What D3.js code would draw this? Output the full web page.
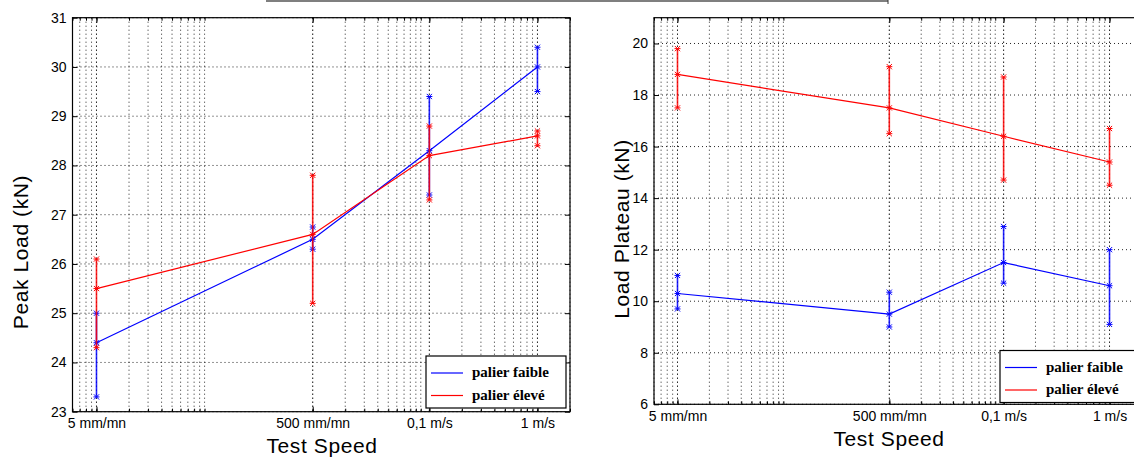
<!DOCTYPE html>
<head>
  <script src="https://cdn.jsdelivr.net/npm/d3@7"></script>
  <title>Peak Load / Load Plateau vs Test Speed</title>
  <style>
    body { margin: 0; background: #fff; }
    svg { display: block; }
    .tick text { font-family: "Liberation Sans", Arial, sans-serif; font-size: 14px; fill: #000; }
    .lbl { font-family: "Liberation Sans", Arial, sans-serif; font-size: 21px; letter-spacing: 0.6px; }
    .leg { font-family: "Liberation Serif", "Times New Roman", serif; font-size: 15px; font-weight: bold; }
  </style>
</head>
<body>
<svg id="chart" width="1134" height="457"></svg>
<script>
  // test speeds, in mm/mn
  const speedValues = [5, 500, 6000, 60000];
  const speedLabels = ["5 mm/mn", "500 mm/mn", "0,1 m/s", "1 m/s"];
  const seriesNames = ["palier faible", "palier élevé"];

  // Peak Load (kN)
  const peakFaible     = [24.4, 26.5, 28.3, 30.0];
  const peakFaibleLow  = [23.3, 26.3, 27.4, 29.5];
  const peakFaibleHigh = [25.0, 26.75, 29.4, 30.4];
  const peakEleve      = [25.5, 26.6, 28.2, 28.6];
  const peakEleveLow   = [24.3, 25.2, 27.3, 28.4];
  const peakEleveHigh  = [26.1, 27.8, 28.8, 28.7];
  const peakTicks = [23, 24, 25, 26, 27, 28, 29, 30, 31];

  // Load Plateau (kN)
  const platFaible     = [10.3, 9.5, 11.5, 10.6];
  const platFaibleLow  = [9.7, 9.0, 10.7, 9.1];
  const platFaibleHigh = [11.0, 10.35, 12.9, 12.0];
  const platEleve      = [18.8, 17.5, 16.4, 15.4];
  const platEleveLow   = [17.5, 16.5, 14.7, 14.5];
  const platEleveHigh  = [19.8, 19.1, 18.7, 16.7];
  const platTicks = [6, 8, 10, 12, 14, 16, 18, 20];

  const xDomain = [3, 120000];
  // minor log grid: decade start and its range (the original skips 50..500)
  const gridAnchors = [[0.5, 5], [5, 50], [500, 5000], [6000, 60000], [60000, 120000]];

  const svg = d3.select("#chart");

  // stray box edge from the figure above
  svg.append("line").attr("x1", 266).attr("x2", 888).attr("y1", 1).attr("y2", 1)
    .attr("stroke", "#555").attr("stroke-width", 1.5);
  svg.append("line").attr("x1", 888).attr("x2", 888).attr("y1", 0).attr("y2", 4)
    .attr("stroke", "#333");

  function minorGrid(domain) {
    const vals = [];
    gridAnchors.forEach(([a, end]) => {
      for (let m = 1; m <= 10; m++) {
        const v = a * m;
        if (v >= domain[0] && v <= domain[1] && v <= end) vals.push(v);
      }
    });
    return Array.from(new Set(vals));
  }

  function drawPanel(cfg) {
    const g = svg.append("g");
    const x = d3.scaleLog().domain(xDomain).range([cfg.left, cfg.right]);
    const y = d3.scaleLinear().domain(cfg.yDomain).range([cfg.bottom, cfg.top]);
    const grid = minorGrid(xDomain);

    // grid
    const gridLine = sel => sel.attr("stroke", "#000").attr("stroke-width", 1)
      .attr("stroke-dasharray", "1,3").attr("stroke-opacity", 0.85);
    g.append("g").selectAll("line").data(grid.concat(speedValues)).join("line")
      .attr("x1", d => x(d)).attr("x2", d => x(d))
      .attr("y1", cfg.top).attr("y2", cfg.bottom).call(gridLine);
    g.append("g").selectAll("line").data(cfg.yTicks).join("line")
      .attr("x1", cfg.left).attr("x2", cfg.right)
      .attr("y1", d => y(d)).attr("y2", d => y(d)).call(gridLine);

    // series: faible (blue) first, élevé (red) on top
    cfg.series.forEach(s => {
      const pts = speedValues.map((v, i) => ({x: v, y: s.mean[i], lo: s.low[i], hi: s.high[i]}));
      g.append("path").datum(pts)
        .attr("fill", "none").attr("stroke", s.color).attr("stroke-width", 1.2)
        .attr("d", d3.line().x(d => x(d.x)).y(d => y(d.y)));
      const eb = g.append("g").attr("stroke", s.color).attr("fill", "none");
      eb.selectAll(".bar").data(pts).join("line").attr("class", "bar")
        .attr("x1", d => x(d.x)).attr("x2", d => x(d.x))
        .attr("y1", d => y(d.lo)).attr("y2", d => y(d.hi))
        .attr("stroke-width", 1.6).attr("stroke-opacity", 0.85);
      const marks = pts.flatMap(d => [[d.x, d.lo], [d.x, d.hi], [d.x, d.y]]);
      const k = 2.6;
      eb.selectAll(".mk").data(marks).join("path").attr("class", "mk")
        .attr("stroke-width", 1)
        .attr("d", d => {
          const px = x(d[0]), py = y(d[1]);
          return `M${px - k},${py - k}L${px + k},${py + k}M${px - k},${py + k}L${px + k},${py - k}M${px - 3},${py}L${px + 3},${py}`;
        });
    });

    // axes (ticks pointing inward, MATLAB style)
    const axes = g.append("g");
    axes.append("g").attr("transform", `translate(0,${cfg.bottom})`)
      .call(d3.axisBottom(x).tickValues(grid).tickSize(-3).tickFormat(""))
      .call(a => a.select(".domain").remove());
    axes.append("g").attr("transform", `translate(0,${cfg.top})`)
      .call(d3.axisTop(x).tickValues(grid).tickSize(-3).tickFormat(""))
      .call(a => a.select(".domain").remove());
    axes.append("g").attr("transform", `translate(0,${cfg.bottom})`)
      .call(d3.axisBottom(x).tickValues(speedValues).tickSize(-5).tickPadding(cfg.xPad)
        .tickFormat((d, i) => speedLabels[i]))
      .call(a => a.select(".domain").remove());
    axes.append("g").attr("transform", `translate(0,${cfg.top})`)
      .call(d3.axisTop(x).tickValues(speedValues).tickSize(-5).tickFormat(""))
      .call(a => a.select(".domain").remove());
    axes.append("g").attr("transform", `translate(${cfg.left},0)`)
      .call(d3.axisLeft(y).tickValues(cfg.yTicks).tickSize(-5).tickPadding(6).tickFormat(d3.format("d")))
      .call(a => a.select(".domain").remove());
    axes.append("g").attr("transform", `translate(${cfg.right},0)`)
      .call(d3.axisRight(y).tickValues(cfg.yTicks).tickSize(-5).tickFormat(""))
      .call(a => a.select(".domain").remove());
    axes.selectAll(".tick line").attr("stroke", "#000");
    g.append("rect").attr("x", cfg.left).attr("y", cfg.top)
      .attr("width", cfg.right - cfg.left).attr("height", cfg.bottom - cfg.top)
      .attr("fill", "none").attr("stroke", "#000").attr("stroke-width", 1.2);

    // axis titles
    g.append("text").attr("class", "lbl").attr("x", cfg.xLabelX).attr("y", cfg.xLabelY)
      .attr("text-anchor", "middle").text("Test Speed");
    g.append("text").attr("class", "lbl").attr("text-anchor", "middle")
      .attr("transform", `translate(${cfg.yLabelX},${cfg.yLabelY}) rotate(-90)`).text(cfg.yLabel);

    // legend
    const lg = g.append("g").attr("transform", `translate(${cfg.legX},${cfg.legY})`);
    lg.append("rect").attr("width", 140).attr("height", 52)
      .attr("fill", "#fff").attr("stroke", "#000").attr("stroke-width", 1.2);
    cfg.series.forEach((s, i) => {
      const yy = 17 + i * 22.5;
      lg.append("line").attr("x1", 5).attr("x2", 37).attr("y1", yy).attr("y2", yy)
        .attr("stroke", s.color).attr("stroke-width", 1.2);
      lg.append("text").attr("class", "leg").attr("x", 46).attr("y", yy + 4).text(s.name);
    });
  }

  drawPanel({
    left: 72.5, right: 570, top: 17.7, bottom: 411.7,
    yDomain: [23, 31], yTicks: peakTicks, yLabel: "Peak Load (kN)",
    xPad: 6, xLabelX: 322, xLabelY: 453, yLabelX: 28, yLabelY: 252,
    legX: 426, legY: 356,
    series: [
      {name: seriesNames[0], color: "#0000ff", mean: peakFaible, low: peakFaibleLow, high: peakFaibleHigh},
      {name: seriesNames[1], color: "#ff0000", mean: peakEleve, low: peakEleveLow, high: peakEleveHigh}
    ]
  });

  drawPanel({
    left: 654, right: 1141.4, top: 17.7, bottom: 404.3,
    yDomain: [6, 21], yTicks: platTicks, yLabel: "Load Plateau (kN)",
    xPad: 7, xLabelX: 889, xLabelY: 446, yLabelX: 629, yLabelY: 229,
    legX: 1000, legY: 350.5,
    series: [
      {name: seriesNames[0], color: "#0000ff", mean: platFaible, low: platFaibleLow, high: platFaibleHigh},
      {name: seriesNames[1], color: "#ff0000", mean: platEleve, low: platEleveLow, high: platEleveHigh}
    ]
  });
</script>
</body>
